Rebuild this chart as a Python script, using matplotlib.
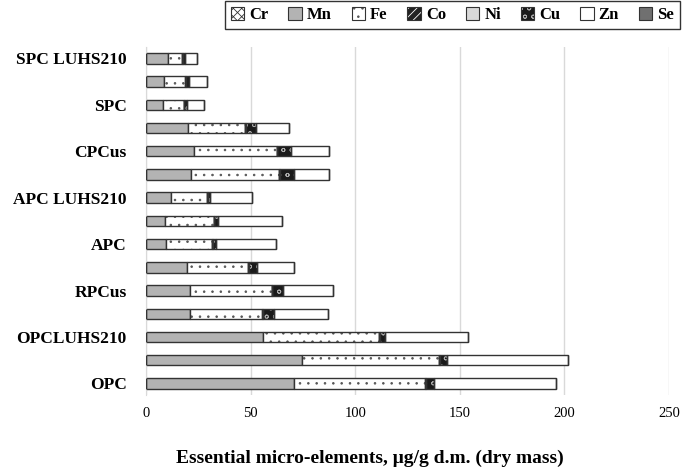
import matplotlib
matplotlib.use('Agg')
from matplotlib import pyplot as plt
from matplotlib.patches import Patch
import numpy as np

#####

labels = ['SPC LUHS210', '', 'SPC', '', 'CPCus', '', 'APC LUHS210', '',
          'APC', '', 'RPCus', '', 'OPCLUHS210', '', 'OPC']

cr = [0.2, 0.2, 0.2, 0.2, 0.2, 0.2, 0.2, 0.2, 0.2, 0.2, 0.2, 0.2, 0.2, 0.2, 0.2]
mn = [10.4, 8.5, 8.1, 20.0, 22.9, 21.3, 11.7, 8.9, 9.2, 19.4, 20.8, 20.8, 55.7, 74.5, 70.5]
fe = [6.6, 10.2, 9.7, 27.2, 39.3, 42.2, 17.4, 23.2, 22.3, 29.3, 39.1, 34.7, 55.5, 65.3, 62.9]
co = [0.1, 0.1, 0.1, 0.1, 0.1, 0.1, 0.1, 0.1, 0.1, 0.1, 0.1, 0.1, 0.1, 0.1, 0.1]
ni = [0.2, 0.2, 0.2, 0.2, 0.2, 0.2, 0.2, 0.2, 0.2, 0.2, 0.2, 0.2, 0.2, 0.2, 0.2]
cu = [1.0, 1.4, 1.5, 4.9, 6.8, 6.7, 0.8, 1.8, 1.6, 3.7, 4.9, 5.3, 2.6, 3.6, 3.8]
zn = [5.7, 8.4, 7.8, 15.7, 17.8, 16.6, 20.2, 30.7, 28.6, 17.9, 24.0, 25.6, 39.7, 57.9, 58.1]
se = [0.1, 0.1, 0.1, 0.1, 0.1, 0.1, 0.1, 0.1, 0.1, 0.1, 0.1, 0.1, 0.1, 0.1, 0.1]

series = [('Cr', cr), ('Mn', mn), ('Fe', fe), ('Co', co), ('Ni', ni),
          ('Cu', cu), ('Zn', zn), ('Se', se)]

# face, hatch, hatch colour
styles = {'Cr': ('white', 'xxxx', '#333333'),
          'Mn': ('#b3b3b3', None, None),
          'Fe': ('white', '..', '#555555'),
          'Co': ('#222222', '////', 'white'),
          'Ni': ('#d9d9d9', None, None),
          'Cu': ('#1a1a1a', 'oo', '#aaaaaa'),
          'Zn': ('white', None, None),
          'Se': ('#707070', None, None)}

#####

plt.rcParams['font.family'] = 'Liberation Serif'
plt.rcParams['hatch.linewidth'] = 0.6

fig = plt.figure(figsize=(6.82, 4.73), dpi=100)
ax = fig.add_axes([0.214, 0.165, 0.767, 0.736])

y = np.arange(len(labels))
left = np.zeros(len(labels))
edge = '#333333'
handles = []
for name, vals in series:
    vals = np.array(vals)
    fc, hatch, hc = styles[name]
    if hatch is not None:
        ax.barh(y, vals, left=left, height=0.45, color=fc, edgecolor=hc,
                hatch=hatch, linewidth=0, zorder=2)
        ax.barh(y, vals, left=left, height=0.45, fill=False, edgecolor=edge,
                linewidth=1.0, zorder=3)
        handles.append((Patch(facecolor=fc, edgecolor=hc, hatch=hatch, linewidth=0),
                        Patch(fill=False, edgecolor=edge, linewidth=0.8)))
    else:
        ax.barh(y, vals, left=left, height=0.45, color=fc, edgecolor=edge,
                linewidth=1.0, zorder=2)
        handles.append(Patch(facecolor=fc, edgecolor=edge, linewidth=0.8))
    left += vals

ax.set_xlim(0, 250)
ax.set_ylim(-0.5, len(labels) - 0.5)
ax.invert_yaxis()
ax.set_xticks([0, 50, 100, 150, 200, 250])
ax.tick_params(axis='x', length=0, labelsize=10.5, pad=9)
ax.set_yticks(y)
ax.set_yticklabels(labels, fontsize=12.5, fontweight='bold')
ax.tick_params(axis='y', length=0, pad=14)
ax.grid(axis='x', color='#d9d9d9', linewidth=1.0, zorder=0)
ax.set_axisbelow(True)
for s in ['top', 'right', 'bottom']:
    ax.spines[s].set_visible(False)
ax.spines['left'].set_color('#d9d9d9')

fig.text(0.543, 0.032, 'Essential micro-elements, \u03bcg/g d.m. (dry mass)',
         fontsize=14, fontweight='bold', ha='center', va='center')

leg = fig.legend(handles, [n for n, v in series], loc='upper right',
                 bbox_to_anchor=(0.997, 0.997), borderaxespad=0, ncol=8,
                 frameon=True, fancybox=False, edgecolor='black',
                 handlelength=0.8, handleheight=0.8, handletextpad=0.3,
                 columnspacing=1.2, prop={'weight': 'bold', 'size': 12},
                 borderpad=0.35)
leg.get_frame().set_linewidth(1.0)

fig.savefig('out.png', dpi=100)
